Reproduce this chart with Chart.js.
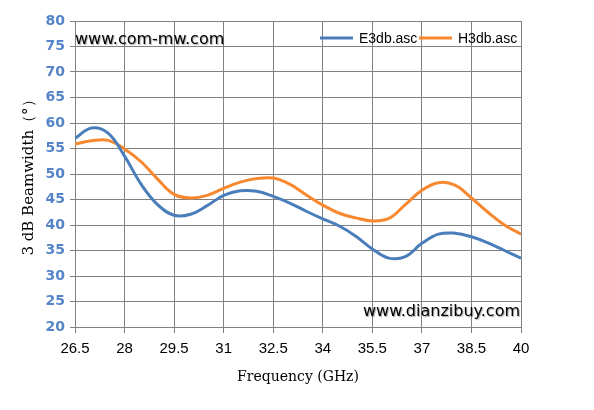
<!DOCTYPE html>
<html>
<head>
<meta charset="utf-8">
<script src="https://cdn.jsdelivr.net/npm/chart.js@4/dist/chart.umd.min.js"></script>
<style>
  html, body { margin: 0; padding: 0; background: #fff; }
  #wrap { width: 594px; height: 410px; }
</style>
</head>
<body>
<div id="wrap"><canvas id="c" width="594" height="410"></canvas></div>
<script>
// frequency points (GHz)
const freq = [26.5, 27, 27.5, 28, 28.5, 29, 29.5, 30, 30.5, 31, 31.5, 32, 32.5, 33, 33.5,
  34, 34.5, 35, 35.5, 36, 36.5, 37, 37.5, 38, 38.5, 39, 39.5, 40];
// E-plane 3 dB beamwidth
const e3db = [57.0, 59.0, 58.0, 53.5, 48.0, 44.0, 41.9, 42.1, 43.8, 45.8, 46.7, 46.6, 45.6, 44.3, 42.7,
  41.2, 39.8, 37.8, 35.3, 33.5, 33.8, 36.4, 38.2, 38.4, 37.7, 36.5, 35.0, 33.5];
// H-plane 3 dB beamwidth
const h3db = [55.9, 56.5, 56.6, 54.9, 52.4, 49.0, 46.0, 45.3, 45.8, 47.2, 48.4, 49.1, 49.2, 48.0, 45.9,
  43.9, 42.3, 41.4, 40.8, 41.3, 44.0, 46.8, 48.3, 47.8, 45.3, 42.5, 40.0, 38.2];
const seriesNames = ['E3db.asc', 'H3db.asc'];
const seriesColors = ['#4a7ebb', '#f7882f'];

const toPoints = (ys) => ys.map((y, i) => ({ x: freq[i], y: y }));

// legend inside the plot plus the two watermark texts
const overlay = {
  id: 'overlay',
  afterDraw(chart) {
    const ctx = chart.ctx;
    const area = chart.chartArea;
    ctx.save();

    // legend
    ctx.font = '14px "Liberation Sans", Arial, sans-serif';
    ctx.textBaseline = 'middle';
    let x = 320;
    const y = 38;
    seriesNames.forEach((name, i) => {
      ctx.strokeStyle = seriesColors[i];
      ctx.lineWidth = 3;
      ctx.beginPath();
      ctx.moveTo(x, y);
      ctx.lineTo(x + 33, y);
      ctx.stroke();
      ctx.fillStyle = '#000';
      ctx.fillText(name, x + 39, y + 1);
      x += 99;
    });

    // watermarks
    ctx.font = '16px "DejaVu Sans", Verdana, sans-serif';
    ctx.shadowColor = 'rgba(0,0,0,0.35)';
    ctx.shadowOffsetX = 1;
    ctx.shadowOffsetY = 1;
    ctx.shadowBlur = 1;
    ctx.fillStyle = '#000';
    ctx.textAlign = 'left';
    ctx.fillText('www.com-mw.com', area.left, 40);
    ctx.textAlign = 'right';
    ctx.fillText('www.dianzibuy.com', area.right - 1, 312);
    ctx.restore();
  }
};

new Chart(document.getElementById('c'), {
  type: 'line',
  data: {
    datasets: [
      { label: seriesNames[0], data: toPoints(e3db), borderColor: seriesColors[0] },
      { label: seriesNames[1], data: toPoints(h3db), borderColor: seriesColors[1] }
    ]
  },
  options: {
    responsive: false,
    animation: false,
    layout: { padding: { top: 21, right: 73, left: 0, bottom: 0 } },
    elements: {
      point: { radius: 0 },
      line: { borderWidth: 3, tension: 0.4, fill: false }
    },
    plugins: { legend: { display: false }, tooltip: { enabled: false } },
    scales: {
      x: {
        type: 'linear',
        min: 26.5,
        max: 40,
        afterFit: (s) => { s.height = 83; },
        ticks: {
          stepSize: 1.5,
          padding: 7,
          color: '#000',
          font: { family: '"Liberation Sans", Arial, sans-serif', size: 15 },
          callback: (v) => String(v)
        },
        grid: { color: '#808080', lineWidth: 1, tickLength: 6 },
        border: { color: '#808080' },
        title: {
          display: true,
          text: 'Frequency (GHz)',
          color: '#000',
          font: { family: '"DejaVu Serif", "Liberation Serif", serif', size: 14 },
          padding: { top: 0, bottom: 24 }
        }
      },
      y: {
        min: 20,
        max: 80,
        afterFit: (s) => { s.width = 75; },
        ticks: {
          stepSize: 5,
          padding: 5,
          color: '#5585c8',
          font: { family: '"DejaVu Sans", Verdana, sans-serif', size: 14, weight: 'bold' }
        },
        grid: { color: '#808080', lineWidth: 1, tickLength: 5 },
        border: { color: '#808080' },
        title: {
          display: true,
          text: '3 dB Beamwidth（°）',
          color: '#000',
          font: { family: '"DejaVu Serif", "Liberation Serif", serif', size: 15 },
          padding: { top: 20, bottom: 0 }
        }
      }
    }
  },
  plugins: [overlay]
});
</script>
</body>
</html>
